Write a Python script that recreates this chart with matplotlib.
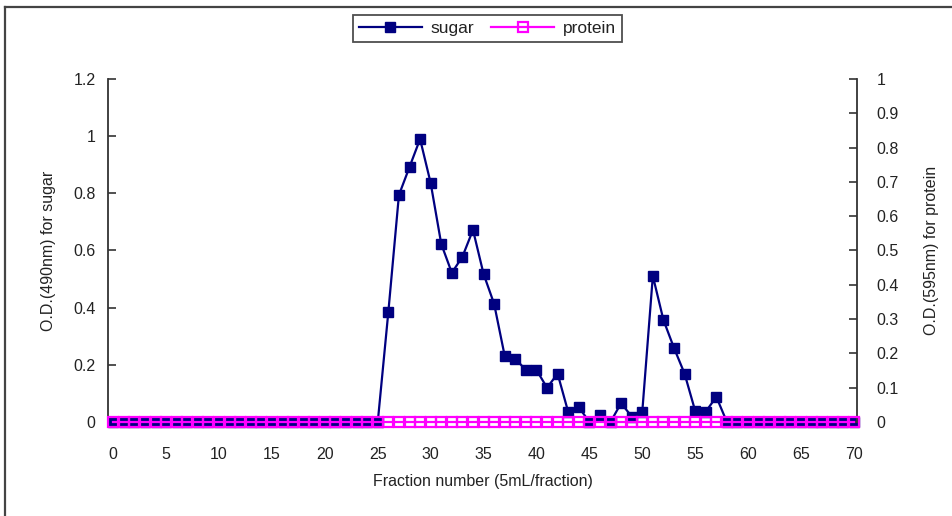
import matplotlib
matplotlib.use("Agg")
import matplotlib.pyplot as plt
from matplotlib.lines import Line2D
import numpy as np

# Fraction numbers (5 mL per fraction)
fractions = list(range(0, 71))

# O.D. at 490 nm (sugar) per fraction
sugar = [0.0] * 26 + [
    0.385, 0.794, 0.892, 0.990, 0.836, 0.623, 0.522, 0.578, 0.672, 0.518,  # 26-35
    0.413, 0.231, 0.221, 0.182, 0.182, 0.120, 0.169, 0.035, 0.052, 0.000,  # 36-45
    0.023, 0.000, 0.066, 0.019, 0.035, 0.511, 0.357, 0.259, 0.169, 0.039,  # 46-55
    0.036, 0.088,                                                          # 56-57
] + [0.0] * 13

# O.D. at 595 nm (protein) per fraction
protein = [0.0] * 71

left_ticks = [0, 0.2, 0.4, 0.6, 0.8, 1.0, 1.2]
left_labels = ["0", "0.2", "0.4", "0.6", "0.8", "1", "1.2"]
right_ticks = [0, 0.1, 0.2, 0.3, 0.4, 0.5, 0.6, 0.7, 0.8, 0.9, 1.0]
right_labels = ["0", "0.1", "0.2", "0.3", "0.4", "0.5", "0.6", "0.7", "0.8", "0.9", "1"]
x_ticks = list(range(0, 71, 5))

plt.rcParams["font.family"] = ["Liberation Sans", "DejaVu Sans"]
text_color = "#222222"
axis_color = "#333333"

fig = plt.figure(figsize=(9.53, 5.16), dpi=100)
ax = fig.add_axes([0.1133, 0.1822, 0.7860, 0.6647])
ax2 = ax.twinx()

ax.plot(fractions, sugar, color="#000080", lw=1.6, marker="s", ms=6.8,
        markerfacecolor="#000080", markeredgecolor="#000080", zorder=3, clip_on=False)
ax2.plot(fractions, protein, color="#FF00FF", lw=1.6, marker="s", ms=6.8,
         markerfacecolor="none", markeredgecolor="#FF00FF", markeredgewidth=1.6,
         zorder=4, clip_on=False)

ax.set_xlim(-0.5, 70.3)
ax.set_ylim(0, 1.2)
ax2.set_ylim(0, 1.0)

for a in (ax, ax2):
    a.spines["top"].set_visible(False)
    for s in ("left", "right", "bottom"):
        a.spines[s].set_color(axis_color)
        a.spines[s].set_linewidth(1.3)
    a.patch.set_visible(False)

ax.spines["right"].set_visible(False)
ax2.spines["left"].set_visible(False)
ax2.spines["bottom"].set_visible(False)

ax.set_yticks(left_ticks)
ax.set_yticklabels(left_labels)
ax2.set_yticks(right_ticks)
ax2.set_yticklabels(right_labels)
ax.set_xticks(x_ticks)
ax.set_xticklabels([str(v) for v in x_ticks])

ax.tick_params(axis="y", direction="in", length=6, width=1.2, color=axis_color,
               labelsize=11.5, labelcolor=text_color, pad=9)
ax2.tick_params(axis="y", direction="in", length=6, width=1.2, color=axis_color,
                labelsize=11.5, labelcolor=text_color, pad=14)
ax.tick_params(axis="x", length=0, labelsize=11.5, labelcolor=text_color, pad=18)

ax.set_xlabel("Fraction number (5mL/fraction)", fontsize=11.5, color=text_color, labelpad=9)
ax.set_ylabel("O.D.(490nm) for sugar", fontsize=11.5, color=text_color, labelpad=12)
ax2.set_ylabel("O.D.(595nm) for protein", fontsize=11.5, color=text_color, labelpad=18)

handles = [
    Line2D([], [], color="#000080", lw=1.6, marker="s", ms=6.8,
           markerfacecolor="#000080", markeredgecolor="#000080"),
    Line2D([], [], color="#FF00FF", lw=1.6, marker="s", ms=6.8,
           markerfacecolor="none", markeredgecolor="#FF00FF", markeredgewidth=1.6),
]
leg = fig.legend(handles, ["sugar", "protein"], loc="center",
                 bbox_to_anchor=(0.5115, 0.945), ncol=2, frameon=True,
                 fancybox=False, edgecolor="#222222", fontsize=12.5,
                 handlelength=3.6, columnspacing=1.0, handletextpad=0.5,
                 borderpad=0.35)
leg.get_frame().set_linewidth(1.3)
for t in leg.get_texts():
    t.set_color(text_color)

# Outer chart frame (left and top edges)
fig.add_artist(Line2D([5 / 953, 5 / 953], [0, 1 - 7 / 516], transform=fig.transFigure,
                      color="#444444", lw=1.6))
fig.add_artist(Line2D([5 / 953, 1], [1 - 7 / 516, 1 - 7 / 516], transform=fig.transFigure,
                      color="#444444", lw=1.6))

fig.savefig("out.png", dpi=100)
